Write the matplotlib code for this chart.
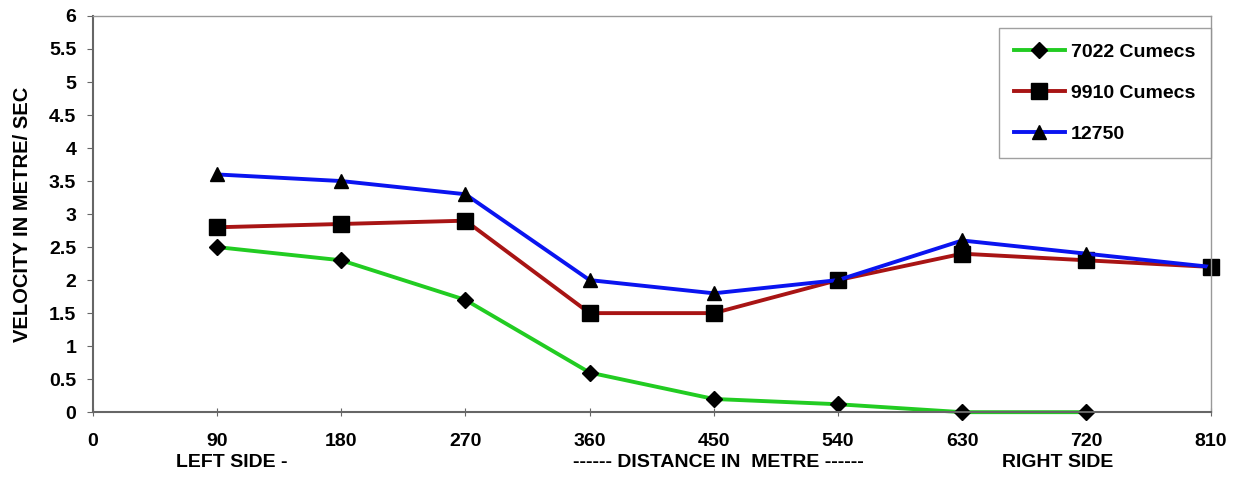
import numpy as np
import matplotlib.pyplot as plt

plt.rcParams['font.family'] = ['Liberation Sans', 'DejaVu Sans']
plt.rcParams['font.weight'] = 'bold'

# distances (m) and velocities (m/s)
dist = [90, 180, 270, 360, 450, 540, 630, 720, 810]
v_7022 = [2.5, 2.3, 1.7, 0.6, 0.2, 0.12, 0.0, 0.0]
v_9910 = [2.8, 2.85, 2.9, 1.5, 1.5, 2.0, 2.4, 2.3, 2.2]
v_12750 = [3.6, 3.5, 3.3, 2.0, 1.8, 2.0, 2.6, 2.4, 2.2]

labels = ["7022 Cumecs", "9910 Cumecs", "12750"]

fig = plt.figure(figsize=(12.39, 4.99), dpi=100)
ax = fig.add_axes([0.075, 0.174, 0.902, 0.794])

ax.plot(dist[:len(v_7022)], v_7022, color="#22cc22", lw=2.8, marker="D",
        ms=8, mfc="black", mec="black", label=labels[0], clip_on=False)
ax.plot(dist, v_9910, color="#a81414", lw=2.8, marker="s",
        ms=11, mfc="black", mec="black", label=labels[1], clip_on=False)
ax.plot(dist, v_12750, color="#0a14f0", lw=2.8, marker="^",
        ms=10, mfc="black", mec="black", label=labels[2], clip_on=False)

ax.set_xlim(0, 810)
ax.set_ylim(0, 6)
ax.set_xticks(np.arange(0, 811, 90))
ax.set_yticks(np.arange(0, 6.01, 0.5))
ax.set_yticklabels([f"{t:g}" for t in np.arange(0, 6.01, 0.5)])

for s in ax.spines.values():
    s.set_color("#999999")
    s.set_linewidth(1.0)
ax.spines['left'].set_color("#666666")
ax.spines['bottom'].set_color("#666666")
ax.spines['left'].set_linewidth(1.5)
ax.spines['bottom'].set_linewidth(1.5)

ax.tick_params(axis='y', direction='out', length=4, pad=8, labelsize=14,
               colors="#666666", labelcolor="black")
ax.tick_params(axis='x', direction='inout', length=6, pad=12, labelsize=14,
               colors="#666666", labelcolor="black")
for lab in ax.get_xticklabels() + ax.get_yticklabels():
    lab.set_fontweight('bold')

ax.set_ylabel("VELOCITY IN METRE/ SEC", fontsize=14.5, fontweight='bold', labelpad=12)

fig.text(0.187, 0.074, "LEFT SIDE -", ha='center', va='center', fontsize=14, fontweight='bold')
fig.text(0.58, 0.074, "------ DISTANCE IN  METRE ------", ha='center', va='center',
         fontsize=14, fontweight='bold')
fig.text(0.854, 0.074, "RIGHT SIDE", ha='center', va='center', fontsize=14, fontweight='bold')

leg = ax.legend(loc='upper right', bbox_to_anchor=(1.0, 0.97), fontsize=14,
                frameon=True, fancybox=False, borderpad=0.8, labelspacing=1.2,
                handlelength=2.6, handletextpad=0.3, borderaxespad=0.0)
leg.get_frame().set_edgecolor("#888888")
leg.get_frame().set_linewidth(1.0)
for t in leg.get_texts():
    t.set_fontweight('bold')

fig.savefig("out.png", dpi=100)
